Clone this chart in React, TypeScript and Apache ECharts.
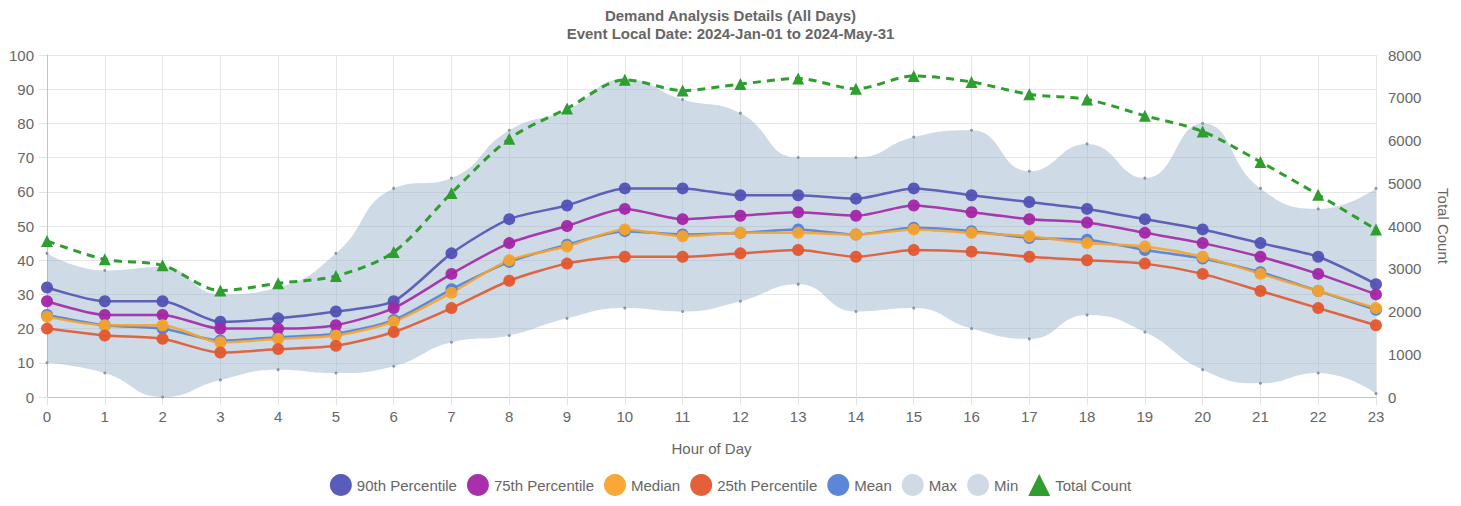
import React, { useEffect, useRef } from "react";
import * as echarts from "echarts";

const hours = ["0","1","2","3","4","5","6","7","8","9","10","11","12","13","14","15","16","17","18","19","20","21","22","23"];
const p90 = [32, 28, 28, 22, 23, 25, 28, 42, 52, 56, 61, 61, 59, 59, 58, 61, 59, 57, 55, 52, 49, 45, 41, 33];
const p75 = [28, 24, 24, 20, 20, 21, 26, 36, 45, 50, 55, 52, 53, 54, 53, 56, 54, 52, 51, 48, 45, 41, 36, 30];
const median = [23.5, 21, 21, 16, 17, 18, 22, 30.5, 40, 44, 49, 47, 48, 48, 47.5, 49, 48, 47, 45, 44, 41, 36, 31, 26];
const p25 = [20, 18, 17, 13, 14, 15, 19, 26, 34, 39, 41, 41, 42, 43, 41, 43, 42.5, 41, 40, 39, 36, 31, 26, 21];
const mean = [24, 21, 20, 16.5, 17.5, 18.5, 22.5, 31.5, 39.5, 44.5, 48.5, 47.5, 48, 49, 47.5, 49.5, 48.5, 46.5, 46, 43, 40.5, 36.5, 31, 25.5];
const maxV = [42, 37, 38, 30, 32, 42, 61, 64, 78, 84, 93, 87, 83, 70, 70, 76, 78, 66, 74, 64, 80, 61, 55, 61];
const minV = [10, 7, 0, 5, 8, 7, 9, 16, 18, 23, 26, 25, 28, 33, 25, 26, 20, 17, 24, 19, 8, 4, 7, 1];
const totalCount = [3650, 3220, 3080, 2490, 2660, 2830, 3390, 4770, 6040, 6750, 7420, 7170, 7320, 7450, 7210, 7510, 7370, 7080, 6960, 6580, 6210, 5500, 4730, 3920];

const C90 = "#5252b5";
const C75 = "#a326a6";
const CMED = "#f7a32b";
const C25 = "#e1572f";
const CMEAN = "#5181d6";
const CBAND = "#cfdae4";
const CTOT = "#2e9e2e";
const FONT = "'Liberation Sans', Arial, Helvetica, sans-serif";
const FS = 15;

function lineSeries(name: string, data: number[], color: string) {
  return {
    name,
    type: "line",
    data,
    smooth: 0.25,
    symbol: "circle",
    symbolSize: 12,
    lineStyle: { color, width: 2.5, opacity: 0.9 },
    itemStyle: { color, opacity: 0.95 },
    z: 3,
  };
}

export default function App() {
  const ref = useRef<HTMLDivElement>(null);
  useEffect(() => {
    if (!ref.current) return;
    const chart = echarts.init(ref.current, undefined, { renderer: "svg" });
    const bandDiff = maxV.map((v, i) => v - minV[i]);
    chart.setOption({
      animation: false,
      backgroundColor: "#fff",
      textStyle: { fontFamily: FONT },
      title: {
        text: "Demand Analysis Details (All Days)\nEvent Local Date: 2024-Jan-01 to 2024-May-31",
        left: "center",
        top: 1,
        textStyle: { fontFamily: FONT, fontSize: FS, fontWeight: "bold", color: "#666", lineHeight: 18 },
      },
      legend: {
        bottom: 5,
        left: "center",
        itemWidth: 22,
        itemHeight: 22,
        itemGap: 10,
        textStyle: { fontFamily: FONT, fontSize: FS, color: "#666" },
        data: [
          { name: "90th Percentile", icon: "circle" },
          { name: "75th Percentile", icon: "circle" },
          { name: "Median", icon: "circle" },
          { name: "25th Percentile", icon: "circle" },
          { name: "Mean", icon: "circle" },
          { name: "Max", icon: "circle", itemStyle: { color: CBAND } },
          { name: "Min", icon: "circle", itemStyle: { color: CBAND } },
          { name: "Total Count", icon: "triangle" },
        ],
      },
      grid: { left: 47, right: 85, top: 55, bottom: 109 },
      xAxis: {
        type: "category",
        data: hours,
        boundaryGap: false,
        name: "Hour of Day",
        nameLocation: "middle",
        nameGap: 44,
        nameTextStyle: { fontFamily: FONT, fontSize: FS, color: "#666" },
        axisLine: { lineStyle: { color: "#c4c4c4", width: 1 } },
        axisTick: { show: true, length: 8, lineStyle: { color: "#e3e3e3" } },
        axisLabel: { fontFamily: FONT, fontSize: FS, color: "#666", margin: 12 },
        splitLine: { show: true, lineStyle: { color: "#e6e6e6" } },
      },
      yAxis: [
        {
          type: "value",
          min: 0,
          max: 100,
          interval: 10,
          axisLine: { show: true, lineStyle: { color: "#c4c4c4" } },
          axisTick: { show: true, length: 8, lineStyle: { color: "#e3e3e3" } },
          axisLabel: { fontFamily: FONT, fontSize: FS, color: "#666", margin: 13 },
          splitLine: { show: true, lineStyle: { color: "#e6e6e6" } },
        },
        {
          type: "value",
          min: 0,
          max: 8000,
          interval: 1000,
          position: "right",
          name: "Total Count",
          nameLocation: "middle",
          nameRotate: -90,
          nameGap: 60,
          nameTextStyle: { fontFamily: FONT, fontSize: FS, color: "#666" },
          axisLine: { show: false },
          axisTick: { show: false },
          axisLabel: {
            fontFamily: FONT,
            fontSize: FS,
            color: "#666",
            margin: 12,
            formatter: (v: number) => String(v),
          },
          splitLine: { show: false },
        },
      ],
      series: [
        {
          name: "Min",
          type: "line",
          data: minV,
          stack: "band",
          smooth: 0.5,
          symbol: "circle",
          symbolSize: 3,
          itemStyle: { color: "#8696a8" },
          lineStyle: { width: 0, opacity: 0 },
          z: 1,
        },
        {
          name: "Max",
          type: "line",
          data: bandDiff,
          stack: "band",
          smooth: 0.5,
          symbol: "circle",
          symbolSize: 3,
          itemStyle: { color: "#8696a8" },
          lineStyle: { width: 0, opacity: 0 },
          areaStyle: { color: "rgba(150,176,200,0.47)", opacity: 1 },
          z: 1,
        },
        lineSeries("Mean", mean, CMEAN),
        lineSeries("90th Percentile", p90, C90),
        lineSeries("75th Percentile", p75, C75),
        lineSeries("Median", median, CMED),
        lineSeries("25th Percentile", p25, C25),
        {
          name: "Total Count",
          type: "line",
          yAxisIndex: 1,
          data: totalCount,
          smooth: 0.3,
          symbol: "triangle",
          symbolSize: 12,
          itemStyle: { color: CTOT },
          lineStyle: { color: CTOT, width: 3, type: [8, 6] },
          z: 4,
        },
      ],
    });
    return () => chart.dispose();
  }, []);
  return (
    <div
      ref={ref}
      style={{ position: "absolute", left: 0, top: 0, width: 1461, height: 506 }}
    />
  );
}
